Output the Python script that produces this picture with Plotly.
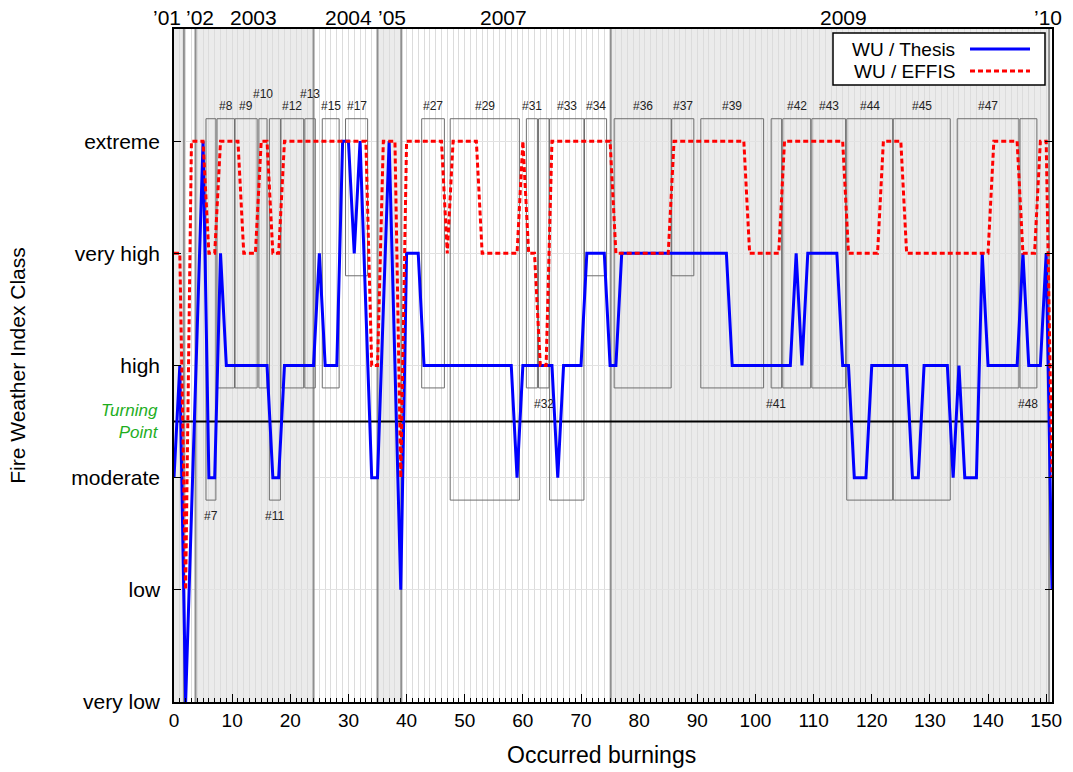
import plotly.graph_objects as go

# ---------------------------------------------------------------- data
burnings = list(range(152))

# Fire Weather Index class per burning (0 = very low ... 5 = extreme), None = no value
thesis = [2, 3, 0, None, None, 5, 2, 2, 4, 3,
          3, 3, 3, 3, 3, 3, 3, 2, 2, 3,
          3, 3, 3, 3, 3, 4, 3, 3, 3, 5,
          5, 4, 5, None, 2, 2, None, 5, 3, 1,
          4, 4, 4, 3, 3, 3, 3, 3, 3, 3,
          3, 3, 3, 3, 3, 3, 3, 3, 3, 2,
          3, 3, 3, 3, 3, 3, 2, 3, 3, 3,
          3, 4, 4, 4, 4, 3, 3, 4, 4, 4,
          4, 4, 4, 4, 4, 4, 4, 4, 4, 4,
          4, 4, 4, 4, 4, 4, 3, 3, 3, 3,
          3, 3, 3, 3, 3, 3, 3, 4, 3, 4,
          4, 4, 4, 4, 4, 3, 3, 2, 2, 2,
          3, 3, 3, 3, 3, 3, 3, 2, 2, 3,
          3, 3, 3, 3, 2, 3, 2, 2, 2, 4,
          3, 3, 3, 3, 3, 3, 4, 3, 3, 3,
          4, 1]

effis = [4, 4, 1, 5, 5, 5, 4, 4, 5, 5,
         5, 5, 4, 4, 4, 5, 5, 4, 4, 5,
         5, 5, 5, 5, 5, 5, 5, 5, 5, 5,
         5, 5, 5, 5, 3, 3, 5, 5, 5, 2,
         5, 5, 5, 5, 5, 5, 5, 4, 5, 5,
         5, 5, 5, 4, 4, 4, 4, 4, 4, 4,
         5, 4, 4, 3, 3, 5, 5, 5, 5, 5,
         5, 5, 5, 5, 5, 5, 4, 4, 4, 4,
         4, 4, 4, 4, 4, 4, 5, 5, 5, 5,
         5, 5, 5, 5, 5, 5, 5, 5, 5, 4,
         4, 4, 4, 4, 4, 5, 5, 5, 5, 5,
         5, 5, 5, 5, 5, 5, 4, 4, 4, 4,
         4, 4, 5, 5, 5, 5, 4, 4, 4, 4,
         4, 4, 4, 4, 4, 4, 4, 4, 4, 4,
         4, 5, 5, 5, 5, 5, 4, 4, 4, 5,
         5, 2]

class_labels = ["very low", "low", "moderate", "high", "very high", "extreme"]
turning_point = 2.5

# fire events (grouped burnings)
event_ids = [7, 8, 9, 10, 11, 12, 13, 15, 17, 27, 29, 31, 32, 33, 34,
             36, 37, 39, 41, 42, 43, 44, 45, 47, 48]
event_start = [5.5, 7.4, 10.5, 14.6, 16.4, 18.4, 22.5, 25.5, 29.5, 42.6, 47.5,
               60.6, 62.7, 64.6, 70.6, 75.7, 85.6, 90.6, 102.7, 104.7, 109.7,
               115.7, 123.7, 134.7, 145.5]
event_end = [7.2, 10.4, 14.3, 16.0, 18.3, 22.3, 24.3, 28.4, 33.3, 46.5, 59.4,
             62.5, 64.5, 70.5, 74.4, 85.5, 89.4, 101.4, 104.5, 109.5, 115.5,
             123.6, 133.5, 145.3, 148.4]
event_floor = [1.8, 2.8, 2.8, 2.8, 1.8, 2.8, 2.8, 2.8, 3.8, 2.8, 1.8,
               2.8, 2.8, 1.8, 3.8, 2.8, 3.8, 2.8, 2.8, 2.8, 2.8,
               1.8, 1.8, 2.8, 2.8]
event_ceiling = 5.2
event_label_side = ["below", "top", "top", "raised", "below", "top", "raised", "top",
                    "top", "top", "top", "top", "below", "top", "top", "top", "top",
                    "top", "below", "top", "top", "top", "top", "top", "below"]

# years
year_names = ["’01", "’02", "2003", "2004", "’05", "2007", "2009", "’10"]
year_label_at = [-1.2, 4.4, 13.7, 30.0, 37.5, 56.6, 115.2, 150.3]
year_bounds = [1.7, 3.7, 24.0, 35.0, 39.1, 75.1, 150.5]
shaded_years = [(0, 1.7), (3.7, 24.0), (35.0, 39.1), (75.1, 150.5)]

# ---------------------------------------------------------------- layout helpers
W, H = 1073, 772
ML, MR, MT, MB = 174, 21, 29, 70
X_MAX, Y_MAX = 151, 6
FONT = "Liberation Sans, Arial, Helvetica, sans-serif"


def xp(px):
    return (px - ML) / (W - ML - MR)


def yp(py):
    return (H - MB - py) / (H - MT - MB)


def x_to_paper(v):
    return v / X_MAX


fig = go.Figure()

fig.add_trace(go.Scatter(
    x=burnings, y=thesis, mode="lines", name="WU / Thesis",
    line=dict(color="#0000ff", width=3), connectgaps=True, showlegend=False))
fig.add_trace(go.Scatter(
    x=burnings, y=effis, mode="lines", name="WU / EFFIS",
    line=dict(color="#ff0000", width=3, dash="5px,3px"), connectgaps=True,
    showlegend=False))

shapes = []
# alternating year shading
for a, b in shaded_years:
    shapes.append(dict(type="rect", xref="x", yref="y", x0=a, x1=b, y0=0, y1=Y_MAX,
                       fillcolor="#ebebeb", line=dict(width=0), layer="below"))
# year boundaries
for b in year_bounds:
    shapes.append(dict(type="line", xref="x", yref="y", x0=b, x1=b, y0=0, y1=Y_MAX,
                       line=dict(color="#8f8f8f", width=2), layer="between"))
# event boxes
for s, e, f in zip(event_start, event_end, event_floor):
    shapes.append(dict(type="rect", xref="x", yref="y", x0=s, x1=e, y0=f,
                       y1=event_ceiling, line=dict(color="#6e6e6e", width=1),
                       fillcolor="rgba(0,0,0,0)", layer="between"))
# turning point
shapes.append(dict(type="line", xref="x", yref="y", x0=0, x1=X_MAX,
                   y0=turning_point, y1=turning_point,
                   line=dict(color="black", width=2), layer="between"))

# legend (text left, sample right)
shapes.append(dict(type="rect", xref="paper", yref="paper",
                   x0=xp(833), x1=xp(1045), y0=yp(85), y1=yp(33),
                   fillcolor="white", line=dict(color="black", width=1.5),
                   layer="above"))
shapes.append(dict(type="line", xref="paper", yref="paper",
                   x0=xp(970), x1=xp(1030), y0=yp(49), y1=yp(49),
                   line=dict(color="#0000ff", width=3), layer="above"))
shapes.append(dict(type="line", xref="paper", yref="paper",
                   x0=xp(970), x1=xp(1030), y0=yp(71), y1=yp(71),
                   line=dict(color="#ff0000", width=3, dash="5px,3px"),
                   layer="above"))

annotations = []
for name, yy in (("WU / Thesis", 49), ("WU / EFFIS", 71)):
    annotations.append(dict(xref="paper", yref="paper", x=xp(957), y=yp(yy),
                            text=name, showarrow=False, xanchor="right",
                            yanchor="middle", font=dict(size=19, color="black",
                                                        family=FONT)))

# event labels
for i, s, e, f, side in zip(event_ids, event_start, event_end, event_floor,
                            event_label_side):
    if side == "below":
        yy, anchor = f - 0.06, "top"
    elif side == "raised":
        yy, anchor = event_ceiling + 0.14, "bottom"
    else:
        yy, anchor = event_ceiling + 0.03, "bottom"
    annotations.append(dict(x=(s + e) / 2, y=yy, xref="x", yref="y", text=f"#{i}",
                            showarrow=False, xanchor="center", yanchor=anchor,
                            font=dict(size=12, color="#222222", family=FONT)))

# year labels on top (placed in paper space so the first one may overhang the axis)
for name, at in zip(year_names, year_label_at):
    annotations.append(dict(x=x_to_paper(at), y=1.0, xref="paper", yref="paper",
                            text=name, showarrow=False, xanchor="center",
                            yanchor="bottom", yshift=-2,
                            font=dict(size=21, color="black", family=FONT)))

# turning point label
annotations.append(dict(x=xp(161), y=turning_point, xref="paper", yref="y",
                        text="<i>Turning</i><br><i>Point</i>", showarrow=False,
                        xanchor="right", yanchor="middle", align="right",
                        font=dict(size=17, color="#1eae1e", family=FONT)))

# x axis title
annotations.append(dict(x=xp(601), y=yp(755), xref="paper", yref="paper",
                        text="Occurred burnings", showarrow=False,
                        xanchor="center", yanchor="middle",
                        font=dict(size=23, color="black", family=FONT)))

fig.update_layout(
    width=W, height=H,
    margin=dict(l=ML, r=MR, t=MT, b=MB, pad=0),
    paper_bgcolor="white", plot_bgcolor="white",
    font=dict(family=FONT, size=18, color="black"),
    shapes=shapes, annotations=annotations, showlegend=False,
)

fig.update_xaxes(
    range=[0, X_MAX], tickmode="linear", tick0=0, dtick=10,
    ticks="inside", ticklen=8, tickcolor="black", tickwidth=1,
    showline=True, linecolor="black", linewidth=1.5, mirror=True,
    showgrid=True, gridcolor="#dcdcdc", gridwidth=1, zeroline=False,
    minor=dict(dtick=1, ticks="inside", ticklen=4, tickcolor="black",
               showgrid=True, gridcolor="#dcdcdc", gridwidth=1),
    tickfont=dict(size=19),
)
fig.update_yaxes(
    range=[0, Y_MAX], tickmode="array", tickvals=list(range(6)),
    ticktext=class_labels, ticks="inside", ticklen=7, tickcolor="black",
    showline=True, linecolor="black", linewidth=1.5, mirror="ticks",
    showgrid=True, gridcolor="#e2e2e2", gridwidth=1, zeroline=False,
    tickfont=dict(size=21), ticklabelstandoff=8,
    title=dict(text="Fire Weather Index Class", font=dict(size=21), standoff=40),
)

fig.write_html("out.html")
